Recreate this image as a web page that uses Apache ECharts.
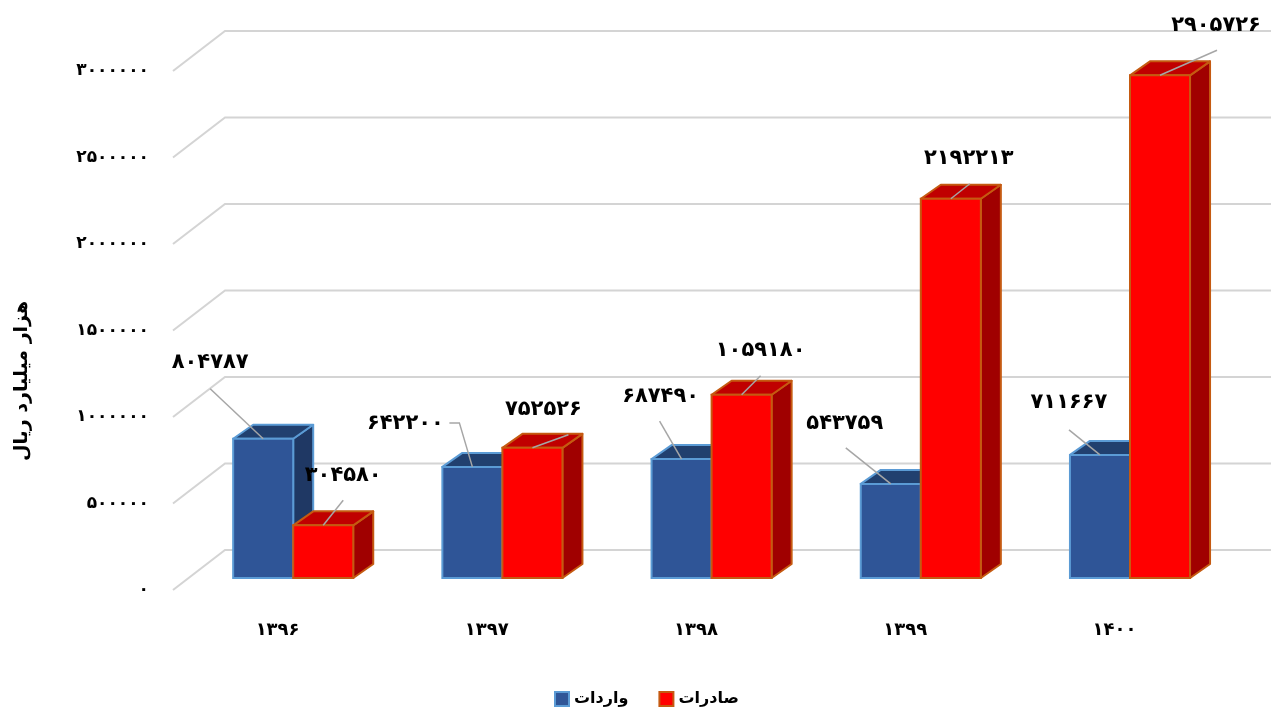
<!DOCTYPE html>
<html>
<head>
<meta charset="utf-8">
<script src="https://cdn.jsdelivr.net/npm/echarts@6/dist/echarts.min.js"></script>
<style>html,body{margin:0;padding:0;background:#fff;}#c{width:1274px;height:712px;}</style>
</head>
<body>
<div id="c"></div>
<script>
const categories = ['۱۳۹۶', '۱۳۹۷', '۱۳۹۸', '۱۳۹۹', '۱۴۰۰'];
const imports = [804787, 642200, 687490, 543759, 711667];
const exportsData = [304580, 752526, 1059180, 2192213, 2905726];
const yTicks = [0, 500000, 1000000, 1500000, 2000000, 2500000, 3000000];
const seriesNames = ['واردات', 'صادرات'];
const yAxisTitle = 'هزار میلیارد ریال';

const FONT = '"DejaVu Sans", "Noto Sans", sans-serif';
const toFa = n => String(n).replace(/\d/g, d => '۰۱۲۳۴۵۶۷۸۹'[d]);

// label placement (pixel offsets from bar front-top centre)
const labelLayout = [
  [
    {t: [-53, -76], l: [[-53, -50]]},
    {t: [-67, -43], l: [[-23, -44], [-13, -44]]},
    {t: [-21, -63], l: [[-22, -38]]},
    {t: [-46, -60], l: [[-45, -36]]},
    {t: [-31, -52], l: [[-31, -25]]}
  ],
  [
    {t: [20, -50], l: [[20, -25]]},
    {t: [11, -38], l: [[36, -13]]},
    {t: [19, -44], l: [[19, -19]]},
    {t: [18, -40], l: [[19, -15]]},
    {t: [56, -50], l: [[57, -25]]}
  ]
];

const styles = [
  {front: '#2F5597', top: '#21406F', side: '#1F3864', border: '#5B9BD5'},
  {front: '#FF0000', top: '#C00000', side: '#A00000', border: '#C55A11'}
];

const WALL_DX = 52, WALL_DY = -40;
const FRONT_K = 0.3;
const BAR_DX = 20, BAR_DY = -14;

function barRender(s) {
  return function (params, api) {
    const i = api.value(0), v = api.value(1);
    const c = api.coord([i, v]);
    const b = api.coord([i, 0]);
    const band = api.size([1, 0])[0];
    const bw = band * 0.287;
    const fx = WALL_DX * FRONT_K, fy = WALL_DY * FRONT_K;
    const x0 = c[0] - bw + s * bw + fx, x1 = x0 + bw;
    const yt = c[1] + fy, yb = b[1] + fy;
    const st = styles[s];
    const lw = 2;
    const children = [
      {type: 'polygon', shape: {points: [[x1, yt], [x1 + BAR_DX, yt + BAR_DY], [x1 + BAR_DX, yb + BAR_DY], [x1, yb]]},
        style: {fill: st.side, stroke: st.border, lineWidth: lw, lineJoin: 'round'}},
      {type: 'polygon', shape: {points: [[x0, yt], [x1, yt], [x1 + BAR_DX, yt + BAR_DY], [x0 + BAR_DX, yt + BAR_DY]]},
        style: {fill: st.top, stroke: st.border, lineWidth: lw, lineJoin: 'round'}},
      {type: 'rect', shape: {x: x0, y: yt, width: bw, height: yb - yt},
        style: {fill: st.front, stroke: st.border, lineWidth: lw}}
    ];
    const ax = x0 + bw / 2, ay = yt;
    const lay = labelLayout[s][params.dataIndex];
    const pts = lay.l.map(p => [ax + p[0], ay + p[1]]);
    pts.push([ax, ay]);
    children.push({type: 'polyline', shape: {points: pts}, style: {stroke: '#A6A6A6', lineWidth: 1.5, fill: null}});
    children.push({type: 'text', style: {text: toFa(v), x: ax + lay.t[0], y: ay + lay.t[1],
      textAlign: 'center', textVerticalAlign: 'middle', fill: '#000',
      fontSize: 21, fontWeight: 'bold', fontFamily: FONT}});
    return {type: 'group', children: children};
  };
}

function gridRender(params, api) {
  const cs = params.coordSys;
  const v = api.value(1);
  const y = api.coord([0, v])[1];
  const L = cs.x, W = cs.width;
  return {type: 'polyline', shape: {points: [[L, y], [L + WALL_DX, y + WALL_DY], [L + WALL_DX + W, y + WALL_DY]]},
    style: {stroke: '#D4D4D4', lineWidth: 2, fill: null}};
}

const chart = echarts.init(document.getElementById('c'));
chart.setOption({
  backgroundColor: '#fff',
  animation: false,
  grid: {left: 173, right: 55, top: 71, bottom: 122},
  legend: {
    left: 549, top: 686,
    itemWidth: 14, itemHeight: 14, itemGap: 30,
    textStyle: {fontSize: 16, fontWeight: 'bold', color: '#000', fontFamily: FONT},
    data: [
      {name: seriesNames[0], icon: 'rect', itemStyle: {color: styles[0].front, borderColor: styles[0].border, borderWidth: 2}},
      {name: seriesNames[1], icon: 'rect', itemStyle: {color: styles[1].front, borderColor: styles[1].border, borderWidth: 2}}
    ]
  },
  graphic: [{
    type: 'text', x: 22, y: 381, rotation: Math.PI / 2,
    style: {text: yAxisTitle, textAlign: 'center', textVerticalAlign: 'middle',
      fontSize: 19, fontWeight: 'bold', fill: '#000', fontFamily: FONT}
  }],
  xAxis: {
    type: 'category', data: categories,
    axisLine: {show: false}, axisTick: {show: false}, splitLine: {show: false},
    axisLabel: {margin: 31, fontSize: 18, fontWeight: 'bold', color: '#000', fontFamily: FONT}
  },
  yAxis: {
    type: 'value', min: 0, max: 3000000, interval: 500000,
    axisLine: {show: false}, axisTick: {show: false}, splitLine: {show: false},
    axisLabel: {margin: 24, fontSize: 17, fontWeight: 'bold', color: '#000', fontFamily: FONT,
      formatter: v => toFa(v)}
  },
  series: [
    {type: 'custom', name: 'grid', renderItem: gridRender, silent: true, z: 1,
      data: yTicks.map(v => [0, v])},
    {type: 'custom', name: seriesNames[0], renderItem: barRender(0), z: 2,
      itemStyle: {color: styles[0].front},
      data: imports.map((v, i) => [i, v])},
    {type: 'custom', name: seriesNames[1], renderItem: barRender(1), z: 3,
      itemStyle: {color: styles[1].front},
      data: exportsData.map((v, i) => [i, v])}
  ]
});
</script>
</body>
</html>
